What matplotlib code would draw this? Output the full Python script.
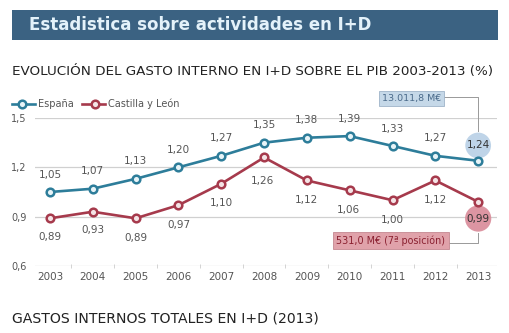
import matplotlib
matplotlib.use("Agg")
import matplotlib.pyplot as plt
from matplotlib.patches import Rectangle
from matplotlib.lines import Line2D

years = [2003, 2004, 2005, 2006, 2007, 2008, 2009, 2010, 2011, 2012, 2013]
espana = [1.05, 1.07, 1.13, 1.20, 1.27, 1.35, 1.38, 1.39, 1.33, 1.27, 1.24]
castilla = [0.89, 0.93, 0.89, 0.97, 1.10, 1.26, 1.12, 1.06, 1.00, 1.12, 0.99]
yticks = [0.6, 0.9, 1.2, 1.5]
series_names = ["España", "Castilla y León"]
title = "Estadistica sobre actividades en I+D"
subtitle = "EVOLUCIÓN DEL GASTO INTERNO EN I+D SOBRE EL PIB 2003-2013 (%)"
bottom_title = "GASTOS INTERNOS TOTALES EN I+D (2013)"
esp_note = "13.011,8 M€"
cyl_note = "531,0 M€ (7ª posición)"

W, H = 509, 333
fig = plt.figure(figsize=(W / 100, H / 100), dpi=100)
fig.patch.set_facecolor("white")

def fx(px):
    return px / W

def fy(py):
    return 1 - py / H

TEAL = "#2d7d9a"
RED = "#a63a4c"
GRAY = "#555555"
NARROW = ["Liberation Sans Narrow", "DejaVu Sans"]

# header bar
fig.patches.append(Rectangle((fx(12), fy(40)), fx(486), 30 / H, transform=fig.transFigure,
                             facecolor="#3b6282", edgecolor="none"))
fig.text(fx(29), fy(25.5), title, color="#e4f2fa", fontsize=12, fontweight="bold",
         va="center", ha="left", family="DejaVu Sans")
fig.text(fx(12), fy(72), subtitle, color="#222222", fontsize=9.7, va="center", ha="left",
         family="DejaVu Sans")
fig.text(fx(12), fy(318), bottom_title, color="#222222", fontsize=10.1, va="center", ha="left",
         family="DejaVu Sans")

# axes
left, right, top, bottom = 35, 497, 118, 266
ax = fig.add_axes([fx(left), fy(bottom), (right - left) / W, (bottom - top) / H])
ax.set_xlim(2002.65, 2013.44)
ax.set_ylim(0.6, 1.5)
for s in ax.spines.values():
    s.set_visible(False)
ax.set_facecolor("none")
ax.set_yticks(yticks)
ax.set_yticklabels([f"{v:.1f}".replace(".", ",") for v in yticks], family=NARROW,
                   fontsize=7, color=GRAY)
ax.set_xticks(years)
ax.set_xticklabels([str(y) for y in years], family=NARROW, fontsize=7.5, color=GRAY)
ax.tick_params(axis="both", length=0, pad=4)
ax.tick_params(axis="y", pad=6)
ax.set_xticks([y + 0.5 for y in years[:-1]], minor=True)
ax.tick_params(axis="x", which="minor", length=3, direction="inout", color="#cccccc")
for v in yticks:
    ax.axhline(v, color="#d0d0d0", lw=0.9, zorder=0, xmin=-0.01)

ax.plot(years, espana, color=TEAL, lw=1.9, marker="o", ms=5.5, mfc="#e8f4f8",
        mec=TEAL, mew=1.8, zorder=4)
ax.plot(years, castilla, color=RED, lw=1.9, marker="o", ms=5.5, mfc="#f4e4e6",
        mec=RED, mew=1.8, zorder=4)

def fmt(v):
    return f"{v:.2f}".replace(".", ",")

last = len(years) - 1
for i, (x, v) in enumerate(zip(years, espana)):
    if i == last:
        ax.annotate(fmt(v), (x, v), xytext=(0, 11), textcoords="offset points",
                    ha="center", va="center", fontsize=7.5, color="#333333",
                    family=NARROW, zorder=3,
                    bbox=dict(boxstyle="circle,pad=0.12", fc="#b8d0e6", ec="none", alpha=0.9))
    else:
        ax.annotate(fmt(v), (x, v), xytext=(0, 12.5), textcoords="offset points",
                    ha="center", va="center", fontsize=7.5, color=GRAY, family=NARROW)

cyl_off = [13.5, 13.5, 14, 14, 14, 17, 14, 14, 14, 14, 13]
cyl_dx = [0, 0, 0, 0, 0, -1, 0, -1, 0, 0, 0]
for i, (x, v) in enumerate(zip(years, castilla)):
    if i == last:
        ax.annotate(fmt(v), (x, v), xytext=(0, -12), textcoords="offset points",
                    ha="center", va="center", fontsize=7.5, color="#333333",
                    family=NARROW, zorder=3,
                    bbox=dict(boxstyle="circle,pad=0.15", fc="#d98a98", ec="none", alpha=0.9))
    else:
        ax.annotate(fmt(v), (x, v), xytext=(cyl_dx[i], -cyl_off[i]),
                    textcoords="offset points", ha="center", va="center", fontsize=7.5,
                    color=GRAY, family=NARROW, zorder=6)

# notes with connector lines
ax.annotate(esp_note, (years[-1], espana[-1]), xytext=(-48, 45), textcoords="offset points",
            ha="center", va="center", fontsize=6.8, color="#4a6a8a", family=NARROW,
            bbox=dict(boxstyle="square,pad=0.3", fc="#c5d8e8", ec="#9fb4c8", lw=0.6),
            annotation_clip=False, zorder=7)
ax.plot([2012.2, years[-1], years[-1]], [1.63, 1.63, 1.42], color="#999999", lw=0.7,
        clip_on=False, zorder=1)
ax.annotate(cyl_note, (years[-1], castilla[-1]), xytext=(-63, -28), textcoords="offset points",
            ha="center", va="center", fontsize=6.9, color="#8a2030", family=NARROW,
            bbox=dict(boxstyle="square,pad=0.35", fc="#e0a2aa", ec="#c48890", lw=0.6),
            annotation_clip=False, zorder=7)
ax.plot([2012.3, years[-1], years[-1]], [0.74, 0.74, 0.80], color="#999999", lw=0.7,
        clip_on=False, zorder=1)

# legend
ly = fy(104)
for (x0, x1, xm, xt, col, fc, name) in [(12, 35, 22, 38, TEAL, "#e8f4f8", series_names[0]),
                                        (82, 105, 95, 108, RED, "#f4e4e6", series_names[1])]:
    fig.add_artist(Line2D([fx(x0), fx(x1)], [ly, ly], color=col, lw=1.9, transform=fig.transFigure))
    fig.add_artist(Line2D([fx(xm)], [ly], marker="o", ms=5.5, mfc=fc, mec=col, mew=1.8,
                          transform=fig.transFigure))
    fig.text(fx(xt), ly, name, fontsize=7, color=GRAY, va="center", ha="left", family=NARROW)

fig.savefig("out.png", dpi=100)
